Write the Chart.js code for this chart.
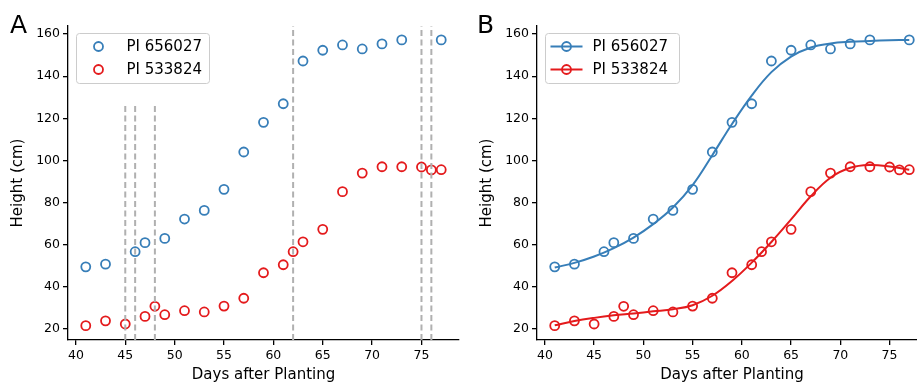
<!DOCTYPE html>
<html>
<head>
<meta charset="utf-8">
<script src="https://cdn.jsdelivr.net/npm/chart.js@4/dist/chart.umd.min.js"></script>
<style>
  html, body { margin: 0; padding: 0; background: #fff; overflow: hidden; }
  body { width: 917px; height: 386px; position: relative; }
  .panel { position: absolute; top: 0; width: 470px; height: 386px; }
  #panelA { left: 0; }
  #panelB { left: 470px; }
  .tag { position: absolute; top: 12px; font: 25px 'DejaVu Sans'; line-height: 1; color: #000; }
</style>
</head>
<body>
<div class="panel" id="panelA"><canvas id="heightA" width="470" height="386"></canvas></div>
<div class="panel" id="panelB"><canvas id="heightB" width="470" height="386"></canvas></div>
<div class="tag" style="left:10px">A</div>
<div class="tag" style="left:477px">B</div>
<script>
// measured heights
const daysPI656027 = [41, 43, 46, 47, 49, 51, 53, 55, 57, 59, 61, 63, 65, 67, 69, 71, 73, 77];
const heightPI656027 = [49.5, 50.8, 56.7, 61.0, 63.0, 72.2, 76.3, 86.3, 104.0, 118.1, 126.9, 147.2, 152.3, 154.8, 152.9, 155.3, 157.2, 157.2];
const daysPI533824 = [41, 43, 45, 47, 48, 49, 51, 53, 55, 57, 59, 61, 62, 63, 65, 67, 69, 71, 73, 75, 76, 77];
const heightPI533824 = [21.6, 23.9, 22.4, 26.0, 30.8, 26.8, 28.7, 28.1, 30.9, 34.6, 46.7, 50.5, 56.7, 61.4, 67.3, 85.2, 94.0, 97.0, 97.0, 96.9, 95.5, 95.6];

// fitted growth curves (panel B)
const fitDays = [41, 43, 45, 47, 49, 51, 53, 55, 57, 59, 61, 63, 65, 67, 69, 71, 73, 75, 77];
const fitPI656027 = [49.2, 51.4, 54.4, 58.4, 63.4, 69.8, 77.7, 88.3, 102.5, 117.3, 130.8, 141.9, 149.3, 153.6, 155.5, 156.3, 156.7, 157.0, 157.2];
const fitPI533824 = [21.8, 23.8, 25.3, 26.5, 27.4, 28.4, 29.4, 31.3, 35.8, 42.8, 51.5, 61.3, 72.0, 83.0, 91.8, 96.5, 97.8, 97.1, 95.6];

// sampling days marked in panel A, and how high each marker line reaches
const markDays = [45, 46, 48, 62, 75, 76];
const markTops = [126.5, 126.5, 126.5, 163.8, 163.8, 163.8];

const xTicks = [40, 45, 50, 55, 60, 65, 70, 75];
const yTicks = [20, 40, 60, 80, 100, 120, 140, 160];
const xRange = [39.2, 78.8];
const yRange = [14.8, 163.8];

const BLUE = '#377eb8';
const RED = '#e41a1c';
const FONT = "'DejaVu Sans', sans-serif";

Chart.defaults.color = '#000';
Chart.defaults.font.family = FONT;

const zip = (xs, ys) => xs.map((x, i) => ({x: x, y: ys[i]}));

function pointSet(label, xs, ys, color) {
  return {
    label: label,
    inLegend: true,
    data: zip(xs, ys),
    borderColor: color,
    backgroundColor: 'transparent',
    pointBackgroundColor: 'transparent',
    pointBorderColor: color,
    pointBorderWidth: 1.8,
    pointRadius: 4.5,
    showLine: false
  };
}

function curveSet(xs, ys, color) {
  return {
    data: zip(xs, ys),
    borderColor: color,
    borderWidth: 2,
    pointRadius: 0,
    showLine: true,
    tension: 0.4
  };
}

function markLines() {
  return markDays.map((d, i) => ({
    data: [{x: d, y: yRange[0]}, {x: d, y: markTops[i]}],
    borderColor: '#b0b0b0',
    borderWidth: 2,
    borderDash: [6, 3.5],
    pointRadius: 0,
    showLine: true
  }));
}

// legend box drawn inside the plot area, top left
const insetLegend = {
  id: 'insetLegend',
  afterDatasetsDraw(chart, args, opts) {
    const {ctx, chartArea} = chart;
    const x0 = Math.round(chartArea.left + opts.left) + 0.5;
    const y0 = Math.round(chartArea.top + opts.top) + 0.5;
    ctx.save();
    ctx.beginPath();
    ctx.roundRect(x0, y0, opts.width, opts.height, 3);
    ctx.fillStyle = 'rgba(255,255,255,0.8)';
    ctx.fill();
    ctx.strokeStyle = '#cccccc';
    ctx.lineWidth = 1;
    ctx.stroke();
    const series = chart.data.datasets.filter(d => d.inLegend);
    series.forEach((ds, i) => {
      const cy = y0 + opts.rowTop + i * opts.rowGap;
      ctx.strokeStyle = ds.pointBorderColor;
      if (opts.withLine) {
        ctx.lineWidth = 2;
        ctx.beginPath();
        ctx.moveTo(x0 + opts.lineStart, cy);
        ctx.lineTo(x0 + opts.lineEnd, cy);
        ctx.stroke();
      }
      ctx.lineWidth = 1.8;
      ctx.beginPath();
      ctx.arc(x0 + opts.markerX, cy, 4.5, 0, Math.PI * 2);
      ctx.stroke();
      ctx.fillStyle = '#000';
      ctx.font = '15px ' + FONT;
      ctx.textBaseline = 'middle';
      ctx.fillText(ds.label, x0 + opts.textX, cy + 1);
    });
    ctx.restore();
  }
};

function axes(yAxisWidth, yTitlePad) {
  const tickFont = {family: FONT, size: 12.5};
  return {
    x: {
      type: 'linear',
      min: xRange[0],
      max: xRange[1],
      afterBuildTicks: s => { s.ticks = xTicks.map(v => ({value: v})); },
      afterFit: s => { s.height = 46; },
      grid: {drawOnChartArea: false, drawTicks: true, tickLength: 5, color: '#000', lineWidth: 1.3},
      border: {display: true, color: '#000', width: 1.3},
      ticks: {font: tickFont, padding: 3, maxRotation: 0, color: '#000'},
      title: {display: true, text: 'Days after Planting', font: {family: FONT, size: 15}, color: '#000', padding: {top: 0, bottom: 2}}
    },
    y: {
      type: 'linear',
      min: yRange[0],
      max: yRange[1],
      afterBuildTicks: s => { s.ticks = yTicks.map(v => ({value: v})); },
      afterFit: s => { s.width = yAxisWidth; },
      grid: {drawOnChartArea: false, drawTicks: true, tickLength: 5, color: '#000', lineWidth: 1.3},
      border: {display: true, color: '#000', width: 1.3},
      ticks: {font: tickFont, padding: 3, color: '#000'},
      title: {display: true, text: 'Height (cm)', font: {family: FONT, size: 15}, color: '#000', padding: {top: yTitlePad, bottom: 0}}
    }
  };
}

// panel A: raw measurements with marker lines
new Chart(document.getElementById('heightA'), {
  type: 'scatter',
  data: {
    datasets: [
      ...markLines(),
      pointSet('PI 656027', daysPI656027, heightPI656027, BLUE),
      pointSet('PI 533824', daysPI533824, heightPI533824, RED)
    ]
  },
  options: {
    responsive: false,
    animation: false,
    events: [],
    layout: {padding: {top: 26, right: 11, left: 0, bottom: 0}},
    scales: axes(68, 9),
    plugins: {
      legend: {display: false},
      tooltip: {enabled: false},
      insetLegend: {left: 8, top: 7, width: 133, height: 50, rowTop: 13, rowGap: 23, markerX: 22, textX: 50, withLine: false}
    }
  },
  plugins: [insetLegend]
});

// panel B: measurements with fitted curves
new Chart(document.getElementById('heightB'), {
  type: 'scatter',
  data: {
    datasets: [
      curveSet(fitDays, fitPI656027, BLUE),
      curveSet(fitDays, fitPI533824, RED),
      pointSet('PI 656027', daysPI656027, heightPI656027, BLUE),
      pointSet('PI 533824', daysPI533824, heightPI533824, RED)
    ]
  },
  options: {
    responsive: false,
    animation: false,
    events: [],
    layout: {padding: {top: 26, right: 13, left: 0, bottom: 0}},
    scales: axes(67, 8),
    plugins: {
      legend: {display: false},
      tooltip: {enabled: false},
      insetLegend: {left: 8, top: 7, width: 134, height: 50, rowTop: 13, rowGap: 23, markerX: 21, lineStart: 5, lineEnd: 37, textX: 47, withLine: true}
    }
  },
  plugins: [insetLegend]
});
</script>
</body>
</html>
